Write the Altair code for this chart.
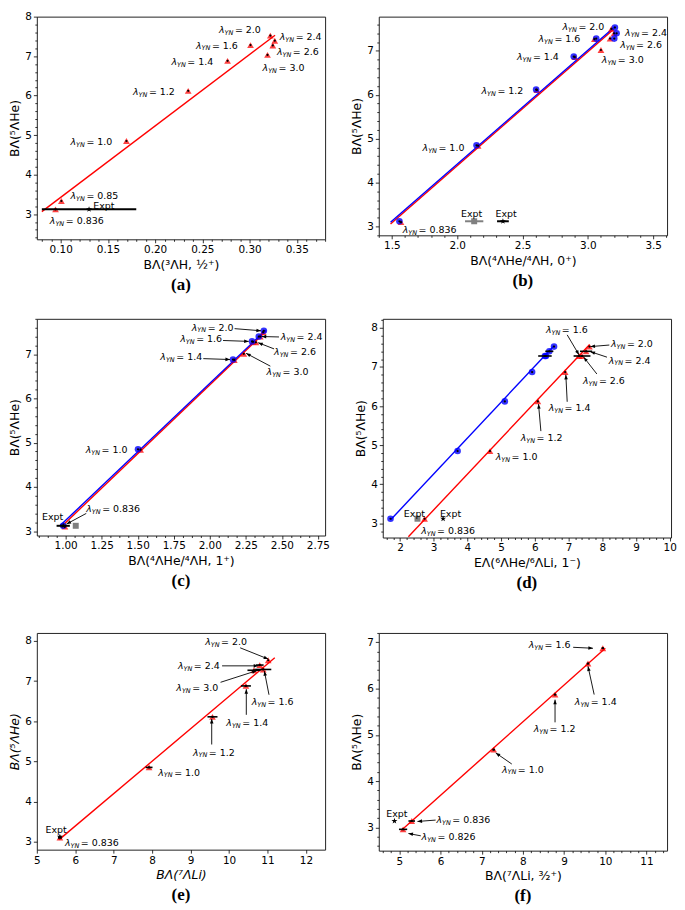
import math
import altair as alt
import pandas as pd

FONT = "DejaVu Sans"
RED = "#ff0000"
BLUE = "#0000ff"
GRAY = "#808080"
STAR = ("M0,-1L0.2245,-0.309L0.951,-0.309L0.363,0.118L0.588,0.809L0,0.382"
        "L-0.588,0.809L-0.363,0.118L-0.951,-0.309L-0.2245,-0.309Z")
HEAD = "M0,0L0.7,1.8L-0.7,1.8Z"

YTITLE = "BΛ(⁵ΛHe)"
EXPT_Y = 3.12

# ---------------- panel (a) ----------------
A_X = [0.0945, 0.1007, 0.1696, 0.2350, 0.2767, 0.3010, 0.3220, 0.3267, 0.3246, 0.3190]
A_Y = [3.12, 3.33, 4.85, 6.12, 6.88, 7.28, 7.52, 7.39, 7.27, 7.03]
A_FIT_X = [0.080, 0.327]
A_FIT_Y = [3.06, 7.53]
A_EXPT = [0.13, 0.05]
A_LBL = ["2.0", "1.6", "1.4", "1.2", "1.0", "0.85", "0.836", "2.4", "2.6", "3.0"]
A_LBL_X = [0.2676, 0.2433, 0.2172, 0.1766, 0.1104, 0.1104, 0.0885, 0.332, 0.329, 0.3138]
A_LBL_Y = [7.667, 7.265, 6.846, 6.093, 4.82, 3.45, 2.82, 7.49, 7.10, 6.70]

# ---------------- panel (b) ----------------
B_RED_X = [1.57, 2.16, 2.61, 2.90, 3.05, 3.18, 3.20, 3.17, 3.10]
B_RED_Y = [3.10, 4.84, 6.11, 6.86, 7.27, 7.50, 7.40, 7.28, 7.02]
B_BLUE_X = [1.558, 2.148, 2.604, 2.892, 3.064, 3.207, 3.220, 3.202]
B_BLUE_Y = [3.12, 4.85, 6.12, 6.87, 7.28, 7.53, 7.40, 7.28]
B_FIT_RED = ([1.49, 3.20], [3.06, 7.50])
B_FIT_BLUE = ([1.49, 3.21], [3.10, 7.56])
B_EXPT_GRAY = [2.13, 0.07]
B_EXPT_BLACK = [2.35, 0.045]
B_LBL = ["2.0", "1.6", "1.4", "1.2", "1.0", "0.836", "2.4", "2.6", "3.0"]
B_LBL_X = [2.806, 2.622, 2.458, 2.186, 1.735, 1.583, 3.285, 3.247, 3.107]
B_LBL_Y = [7.55, 7.26, 6.86, 6.08, 4.79, 2.925, 7.415, 7.14, 6.79]
B_EXPT_TXT_X = [2.11, 2.375]

# ---------------- panel (c) ----------------
C_RED_X = [0.995, 1.52, 2.17, 2.30, 2.37, 2.35, 2.32, 2.236]
C_RED_Y = [3.10, 4.84, 6.87, 7.28, 7.50, 7.40, 7.27, 7.01]
C_BLUE_X = [0.983, 1.502, 2.161, 2.293, 2.375, 2.34]
C_BLUE_Y = [3.12, 4.85, 6.88, 7.29, 7.53, 7.40]
C_FIT_RED = ([0.97, 2.39], [3.10, 7.52])
C_FIT_BLUE = ([0.96, 2.39], [3.12, 7.55])
C_EXPT_BLACK = [0.983, 0.046]
C_EXPT_GRAY = [1.07, 0.0]
C_LBL = ["2.0", "1.6", "1.4", "1.0", "0.836", "2.4", "2.6", "3.0"]
C_LBL_X = [1.875, 1.795, 1.657, 1.139, 1.143, 2.492, 2.446, 2.394]
C_LBL_Y = [7.60, 7.35, 6.94, 4.84, 3.49, 7.39, 7.04, 6.60]
C_ARR_X1 = [2.172, 2.092, 1.955, 1.143, 2.48, 2.446, 2.42]
C_ARR_Y1 = [7.578, 7.31, 6.90, 3.40, 7.39, 7.12, 6.73]
C_ARR_X2 = [2.355, 2.27, 2.14, 1.006, 2.36, 2.336, 2.252]
C_ARR_Y2 = [7.53, 7.29, 6.88, 3.16, 7.40, 7.26, 7.02]

# ---------------- panel (d) ----------------
D_BLUE_X = [1.72, 3.71, 5.11, 5.92, 6.33, 6.57, 6.43, 6.30]
D_BLUE_Y = [3.12, 4.85, 6.12, 6.87, 7.28, 7.52, 7.40, 7.28]
D_BLUE_ERR = [0, 0, 0, 0, 0, 0, 0.12, 0.20]
D_RED_X = [2.73, 4.67, 6.09, 6.90, 7.31, 7.62, 7.52, 7.40]
D_RED_Y = [3.12, 4.85, 6.12, 6.87, 7.28, 7.52, 7.40, 7.28]
D_RED_ERR = [0, 0, 0, 0, 0, 0, 0.18, 0.25]
D_FIT_RED = ([2.25, 7.62], [2.66, 7.57])
D_FIT_BLUE = ([1.72, 6.57], [3.09, 7.54])
D_EXPT_GRAY = [2.52, 0.0]
D_EXPT_BLACK = [3.28, 0.0]
D_LBL = ["1.6", "2.0", "2.4", "2.6", "1.4", "1.2", "1.0", "0.836"]
D_LBL_X = [6.33, 8.26, 8.19, 7.43, 6.41, 5.58, 4.84, 2.63]
D_LBL_Y = [7.94, 7.59, 7.16, 6.64, 5.94, 5.18, 4.69, 2.81]
D_ARR_X1 = [6.96, 8.21, 8.14, 7.84, 6.96, 6.18]
D_ARR_Y1 = [7.82, 7.56, 7.25, 6.82, 6.11, 5.36]
D_ARR_X2 = [7.31, 7.65, 7.65, 7.45, 6.92, 6.11]
D_ARR_Y2 = [7.31, 7.52, 7.39, 7.25, 6.80, 6.05]
D_EXPT_TXT_X = [2.43, 3.50]

# ---------------- panel (e) ----------------
E_X = [5.60, 7.92, 9.57, 10.44, 10.89, 11.02, 10.80, 10.65]
E_Y = [3.10, 4.85, 6.11, 6.88, 7.29, 7.52, 7.40, 7.27]
E_ERR = [0.05, 0.09, 0.13, 0.13, 0.21, 0.0, 0.10, 0.17]
E_FIT = ([5.58, 11.19], [3.05, 7.58])
E_EXPT = [5.60, 0.0]
E_LBL = ["2.0", "2.4", "3.0", "1.6", "1.4", "1.2", "1.0", "0.836"]
E_LBL_X = [9.38, 8.67, 8.63, 10.59, 9.93, 9.06, 8.16, 5.73]
E_LBL_Y = [7.97, 7.37, 6.82, 6.48, 5.96, 5.22, 4.72, 2.97]
E_ARR_X1 = [10.29, 9.82, 9.78, 11.04, 10.45, 9.55]
E_ARR_Y1 = [7.83, 7.38, 6.97, 6.66, 6.16, 5.42]
E_ARR_X2 = [11.02, 10.76, 10.72, 10.92, 10.45, 9.55]
E_ARR_Y2 = [7.55, 7.38, 7.26, 7.25, 6.80, 6.06]

# ---------------- panel (f) ----------------
F_X = [5.09, 5.30, 7.29, 8.78, 9.58, 9.94]
F_Y = [2.96, 3.14, 4.68, 5.87, 6.54, 6.87]
F_ERR = [0.10, 0.08, 0.03, 0.03, 0.03, 0.03]
F_FIT = ([5.05, 10.0], [2.94, 6.87])
F_EXPT = [4.88, 0.0]
F_EXPT_Y = 3.14
F_LBL = ["1.6", "1.4", "1.2", "1.0", "0.836", "0.826"]
F_LBL_X = [8.14, 9.26, 8.26, 7.49, 5.90, 5.54]
F_LBL_Y = [6.94, 5.71, 5.13, 4.25, 3.16, 2.79]
F_ARR_X1 = [9.22, 9.73, 8.78, 7.73, 5.88, 5.52]
F_ARR_Y1 = [6.89, 5.87, 5.27, 4.37, 3.16, 2.82]
F_ARR_X2 = [9.70, 9.58, 8.78, 7.34, 5.44, 5.22]
F_ARR_Y2 = [6.87, 6.48, 5.76, 4.61, 3.13, 2.87]


def majors(start, stop, step):
    n = int(round((stop - start) / step))
    return [round(start + i * step, 6) for i in range(n + 1)]


def minors(lo, hi, step, major):
    if step <= 0:
        return []
    k0 = math.ceil(lo / step - 1e-9)
    k1 = math.floor(hi / step + 1e-9)
    out = []
    for k in range(k0, k1 + 1):
        v = round(k * step, 6)
        if all(abs(v - m) > 1e-9 for m in major):
            out.append(v)
    return out


def make_axis(major, minor, fmt, title, italic=False):
    test = "indexof([%s], datum.value) < 0" % ",".join(repr(float(v)) for v in major)
    vals = sorted([float(v) for v in major] + [float(v) for v in minor])
    return alt.Axis(
        values=vals, format=fmt, title=title,
        labelExpr="(%s) ? '' : datum.label" % test,
        tickSize={"condition": {"test": test, "value": 2.0}, "value": 3.5},
        labelOverlap=False, labelFlush=False, grid=False, domain=False,
        titleFontStyle="italic" if italic else "normal",
    )


def panel(cfg):
    W, H = cfg["W"], cfg["H"]
    xd, yd = cfg["xdom"], cfg["ydom"]
    xs = alt.Scale(domain=xd, nice=False, zero=False)
    ys = alt.Scale(domain=yd, nice=False, zero=False)
    xmaj = majors(*cfg["xmaj"])
    ymaj = majors(*cfg["ymaj"])
    xax = make_axis(xmaj, minors(xd[0], xd[1], cfg["xmin"], xmaj), cfg["xfmt"],
                    cfg["xtitle"], cfg.get("italic", False))
    yax = make_axis(ymaj, minors(yd[0], yd[1], cfg["ymin"], ymaj), ".0f",
                    YTITLE, cfg.get("italic", False))

    def X(f="x"):
        return alt.X(f"{f}:Q", scale=xs, axis=xax)

    def Y(f="y"):
        return alt.Y(f"{f}:Q", scale=ys, axis=yax)

    layers = []
    for fx, fy, col in cfg["fits"]:
        df = pd.DataFrame({"x": fx, "y": fy})
        layers.append(alt.Chart(df).mark_line(color=col, strokeWidth=1.4, clip=True)
                      .encode(x=X(), y=Y()))
    for s in cfg["series"]:
        df = pd.DataFrame({"x": s["x"], "y": s["y"]})
        layers.append(alt.Chart(df).mark_point(shape=s["shape"], filled=True, color=s["color"],
                                               size=s["size"], opacity=s.get("op", 0.8))
                      .encode(x=X(), y=Y()))
    for s in cfg["series"]:
        if "err" in s:
            rows = [(x - e, x + e, y) for x, y, e in zip(s["x"], s["y"], s["err"]) if e > 0]
            if rows:
                df = pd.DataFrame(rows, columns=["x", "x2", "y"])
                layers.append(alt.Chart(df).mark_rule(color="black", strokeWidth=1.6)
                              .encode(x=X(), x2="x2:Q", y=Y()))
        df = pd.DataFrame({"x": s["x"], "y": s["y"]})
        layers.append(alt.Chart(df).mark_point(shape="circle", filled=True, color="black",
                                               size=5, opacity=1)
                      .encode(x=X(), y=Y()))
    for (ex, ee, ey, col, shp, sz) in cfg["expts"]:
        if ee > 0:
            df = pd.DataFrame({"x": [ex - ee], "x2": [ex + ee], "y": [ey]})
            layers.append(alt.Chart(df).mark_rule(color=col, strokeWidth=2)
                          .encode(x=X(), x2="x2:Q", y=Y()))
        df = pd.DataFrame({"x": [ex], "y": [ey]})
        layers.append(alt.Chart(df).mark_point(shape=shp, filled=True, color=col, size=sz, opacity=1)
                      .encode(x=X(), y=Y()))
    if cfg.get("expt_txt"):
        tx, ty, al = cfg["expt_txt"]
        df = pd.DataFrame({"x": tx, "y": ty})
        layers.append(alt.Chart(df).mark_text(text="Expt", align=al, baseline="middle",
                                              font=FONT, fontSize=9.5, color="black")
                      .encode(x=X(), y=Y()))
    # lambda labels
    lt, lx, ly = cfg["labels"]
    df = pd.DataFrame({"x": lx, "y": ly, "t": ["= " + v for v in lt]})
    common = dict(align="left", baseline="middle", font=FONT, color="black")
    layers.append(alt.Chart(df).mark_text(text="λ", fontSize=9.5, fontStyle="italic", **common)
                  .encode(x=X(), y=Y()))
    layers.append(alt.Chart(df).mark_text(text="YN", fontSize=6.5, fontStyle="italic", dx=5.6, dy=2.8,
                                          **common)
                  .encode(x=X(), y=Y()))
    layers.append(alt.Chart(df).mark_text(fontSize=9.5, dx=16, **common)
                  .encode(x=X(), y=Y(), text="t:N"))
    # arrows
    if cfg.get("arrows"):
        x1, y1, x2, y2 = cfg["arrows"]
        sx = W / (xd[1] - xd[0])
        sy = H / (yd[1] - yd[0])
        ang = []
        for a, b, c, d in zip(x1, y1, x2, y2):
            dxp = (c - a) * sx
            dyp = -(d - b) * sy
            ang.append(math.degrees(math.atan2(dxp, -dyp)) % 360)
        df = pd.DataFrame({"x": x1, "y": y1, "ex": x2, "ey": y2, "ang": ang})
        layers.append(alt.Chart(df).mark_rule(color="black", strokeWidth=0.9)
                      .encode(x=X(), y=Y(), x2="ex:Q", y2="ey:Q"))
        layers.append(alt.Chart(df).mark_point(shape=HEAD, filled=True, color="black", size=26, opacity=1)
                      .encode(x=X("ex"), y=Y("ey"), angle=alt.Angle("ang:Q", scale=None)))
    return alt.layer(*layers).properties(
        width=W, height=H,
        title=alt.TitleParams(text=cfg["cap"], orient="bottom", font="Liberation Serif", fontSize=17,
                              fontWeight="bold", offset=6, frame="group", anchor="middle",
                              color="black"))


W = 290
red_tri = dict(shape="triangle-up", color=RED, size=46, op=0.75)
blue_c = dict(shape="circle", color=BLUE, size=44, op=0.8)

pa = panel(dict(
    W=W, H=224, xdom=[0.0747, 0.380], ydom=[2.36, 8.0],
    xmaj=(0.10, 0.35, 0.05), xmin=0.01, xfmt=".2f", ymaj=(3, 8, 1), ymin=0.2,
    xtitle="BΛ(³ΛH, ½⁺)",
    fits=[(A_FIT_X, A_FIT_Y, RED)],
    series=[dict(x=A_X, y=A_Y, **red_tri)],
    expts=[(A_EXPT[0], A_EXPT[1], EXPT_Y, "black", STAR, 40)],
    expt_txt=([0.1344], [3.21], "left"),
    labels=(A_LBL, A_LBL_X, A_LBL_Y),
    cap="(a)"))

pb = panel(dict(
    W=W, H=220, xdom=[1.40, 3.606], ydom=[2.80, 7.78],
    xmaj=(1.5, 3.5, 0.5), xmin=0.1, xfmt=".1f", ymaj=(3, 7, 1), ymin=0.2,
    xtitle="BΛ(⁴ΛHe/⁴ΛH, 0⁺)",
    fits=[(B_FIT_RED[0], B_FIT_RED[1], RED), (B_FIT_BLUE[0], B_FIT_BLUE[1], BLUE)],
    series=[dict(x=B_RED_X, y=B_RED_Y, **red_tri), dict(x=B_BLUE_X, y=B_BLUE_Y, **blue_c)],
    expts=[(B_EXPT_GRAY[0], B_EXPT_GRAY[1], EXPT_Y, GRAY, "square", 36),
           (B_EXPT_BLACK[0], B_EXPT_BLACK[1], EXPT_Y, "black", STAR, 40)],
    expt_txt=(B_EXPT_TXT_X, [3.28, 3.28], "center"),
    labels=(B_LBL, B_LBL_X, B_LBL_Y),
    cap="(b)"))

pc = panel(dict(
    W=W, H=218, xdom=[0.8, 2.8], ydom=[2.90, 7.80],
    xmaj=(1.0, 2.75, 0.25), xmin=0.0625, xfmt=".2f", ymaj=(3, 7, 1), ymin=0.2,
    xtitle="BΛ(⁴ΛHe/⁴ΛH, 1⁺)",
    fits=[(C_FIT_RED[0], C_FIT_RED[1], RED), (C_FIT_BLUE[0], C_FIT_BLUE[1], BLUE)],
    series=[dict(x=C_RED_X, y=C_RED_Y, **red_tri), dict(x=C_BLUE_X, y=C_BLUE_Y, **blue_c)],
    expts=[(C_EXPT_GRAY[0], C_EXPT_GRAY[1], EXPT_Y, GRAY, "square", 36),
           (C_EXPT_BLACK[0], C_EXPT_BLACK[1], EXPT_Y, "black", STAR, 40)],
    expt_txt=([0.91], [3.31], "center"),
    labels=(C_LBL, C_LBL_X, C_LBL_Y),
    arrows=(C_ARR_X1, C_ARR_Y1, C_ARR_X2, C_ARR_Y2),
    cap="(c)"))

pd_ = panel(dict(
    W=W, H=220, xdom=[1.49, 10.04], ydom=[2.64, 8.23],
    xmaj=(2, 10, 1), xmin=0.2, xfmt=".0f", ymaj=(3, 8, 1), ymin=0.2,
    xtitle="EΛ(⁶ΛHe/⁶ΛLi, 1⁻)",
    fits=[(D_FIT_RED[0], D_FIT_RED[1], RED), (D_FIT_BLUE[0], D_FIT_BLUE[1], BLUE)],
    series=[dict(x=D_RED_X, y=D_RED_Y, err=D_RED_ERR, **red_tri),
            dict(x=D_BLUE_X, y=D_BLUE_Y, err=D_BLUE_ERR, **blue_c)],
    expts=[(D_EXPT_GRAY[0], D_EXPT_GRAY[1], EXPT_Y, GRAY, "square", 36),
           (D_EXPT_BLACK[0], D_EXPT_BLACK[1], EXPT_Y, "black", STAR, 40)],
    expt_txt=(D_EXPT_TXT_X, [3.25, 3.25], "center"),
    labels=(D_LBL, D_LBL_X, D_LBL_Y),
    arrows=(D_ARR_X1, D_ARR_Y1, D_ARR_X2, D_ARR_Y2),
    cap="(d)"))

pe = panel(dict(
    W=W, H=218, xdom=[5.0, 12.5], ydom=[2.8, 8.2],
    xmaj=(5, 12, 1), xmin=0, xfmt=".0f", ymaj=(3, 8, 1), ymin=0, italic=True,
    xtitle="BΛ(⁷ΛLi)",
    fits=[(E_FIT[0], E_FIT[1], RED)],
    series=[dict(x=E_X, y=E_Y, err=E_ERR, **red_tri)],
    expts=[(E_EXPT[0], E_EXPT[1], EXPT_Y, "black", STAR, 40)],
    expt_txt=([5.50], [3.30], "center"),
    labels=(E_LBL, E_LBL_X, E_LBL_Y),
    arrows=(E_ARR_X1, E_ARR_Y1, E_ARR_X2, E_ARR_Y2),
    cap="(e)"))

pf = panel(dict(
    W=W, H=219, xdom=[4.5, 11.5], ydom=[2.5, 7.2],
    xmaj=(5, 11, 1), xmin=0.2, xfmt=".0f", ymaj=(3, 7, 1), ymin=0.2,
    xtitle="BΛ(⁷ΛLi, ³⁄₂⁺)",
    fits=[(F_FIT[0], F_FIT[1], RED)],
    series=[dict(x=F_X, y=F_Y, err=F_ERR, **red_tri)],
    expts=[(F_EXPT[0], F_EXPT[1], F_EXPT_Y, "black", STAR, 40)],
    expt_txt=([4.94], [3.29], "center"),
    labels=(F_LBL, F_LBL_X, F_LBL_Y),
    arrows=(F_ARR_X1, F_ARR_Y1, F_ARR_X2, F_ARR_Y2),
    cap="(f)"))

top = alt.vconcat(
    alt.hconcat(pa, pb, spacing=24),
    alt.hconcat(pc, pd_, spacing=24),
    spacing=20,
)
chart = alt.vconcat(
    top,
    alt.hconcat(pe, pf, spacing=24),
    spacing=36,
).properties(padding=0).configure_axis(
    labelFont=FONT, labelFontSize=10.5, labelColor="black",
    titleFont=FONT, titleFontSize=12.5, titleFontWeight="normal", titleColor="black",
    tickColor="black", tickWidth=0.8, labelPadding=2, titlePadding=3, labelOverlap=False,
).configure_view(stroke="#222222", strokeWidth=1)

chart.save("out.html", embed_options={"renderer": "svg", "actions": False})
